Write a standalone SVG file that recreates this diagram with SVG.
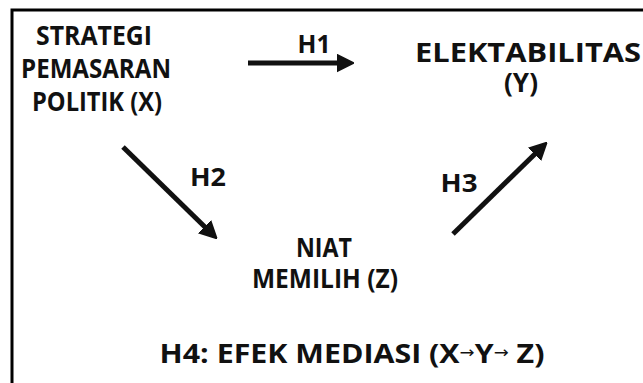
<svg xmlns="http://www.w3.org/2000/svg" width="643" height="383" viewBox="0 0 643 383">
  <style>
    .lbl { font-family: "Open Sans", "Noto Sans", "DejaVu Sans", sans-serif; font-weight: 700; fill: #111; text-anchor: middle; }
    .node { font-size: 27px; }
    .hyp { font-size: 25px; }
    .edge { stroke: #111; stroke-width: 5; fill: none; }
    .sm { font-size: 16px; font-weight: 400; }
  </style>
  <defs>
    <marker id="head" viewBox="0 0 10 10" refX="2" refY="5" markerWidth="3.4" markerHeight="3.8" orient="auto" markerUnits="strokeWidth">
      <path d="M0,0 L10,5 L0,10 Z" fill="#111" stroke="#111" stroke-width="1" stroke-linejoin="round"/>
    </marker>
  </defs>
  <rect width="643" height="383" fill="#fff"/>
  <!-- frame: top and left edges -->
  <path d="M12,400 L12,10 L650,10" fill="none" stroke="#000" stroke-width="3"/>

  <g id="node-x">
    <text class="lbl node" x="94" y="45" textLength="116" lengthAdjust="spacingAndGlyphs">STRATEGI</text>
    <text class="lbl node" x="96" y="78" textLength="150" lengthAdjust="spacingAndGlyphs">PEMASARAN</text>
    <text class="lbl node" x="97" y="111" textLength="130" lengthAdjust="spacingAndGlyphs">POLITIK (X)</text>
  </g>
  <g id="node-y">
    <text class="lbl node" x="528" y="62" textLength="226" lengthAdjust="spacingAndGlyphs">ELEKTABILITAS</text>
    <text class="lbl node" x="521" y="92" textLength="34" lengthAdjust="spacingAndGlyphs">(Y)</text>
  </g>
  <g id="node-z">
    <text class="lbl node" x="324" y="257" textLength="56" lengthAdjust="spacingAndGlyphs">NIAT</text>
    <text class="lbl node" x="325" y="288" textLength="146" lengthAdjust="spacingAndGlyphs">MEMILIH (Z)</text>
  </g>

  <g id="connectors">
    <line class="edge" x1="248" y1="63" x2="340" y2="63" marker-end="url(#head)"/>
    <line class="edge" x1="123" y1="147" x2="207" y2="229" marker-end="url(#head)"/>
    <line class="edge" x1="453" y1="234" x2="537" y2="152" marker-end="url(#head)"/>
    <text class="lbl hyp" x="314" y="53" textLength="33" lengthAdjust="spacingAndGlyphs">H1</text>
    <text class="lbl hyp" x="208" y="186" textLength="36" lengthAdjust="spacingAndGlyphs">H2</text>
    <text class="lbl hyp" x="459" y="192" textLength="37" lengthAdjust="spacingAndGlyphs">H3</text>
  </g>

  <g id="note">
    <text class="lbl node" x="352" y="363" textLength="385" lengthAdjust="spacingAndGlyphs">H4: EFEK MEDIASI (X<tspan class="sm" dy="-5">→</tspan><tspan dy="5">Y</tspan><tspan class="sm" dy="-5">→</tspan><tspan dy="5"> Z)</tspan></text>
  </g>
</svg>
